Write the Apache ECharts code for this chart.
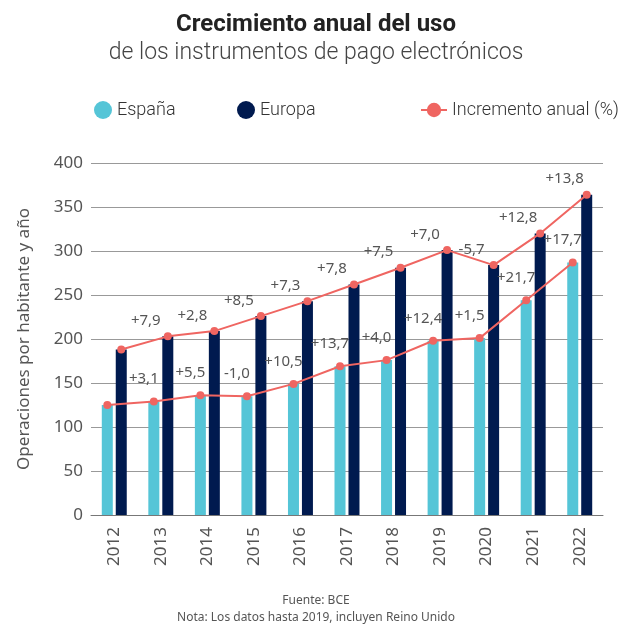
<!DOCTYPE html>
<html>
<head>
<meta charset="utf-8">
<script src="https://cdn.jsdelivr.net/npm/echarts@6/dist/echarts.min.js"></script>
<style>
  html, body { margin: 0; padding: 0; background: #fff; }
  #chart { width: 632px; height: 626px; }
</style>
</head>
<body>
<div id="chart"></div>
<script>
var years = ['2012', '2013', '2014', '2015', '2016', '2017', '2018', '2019', '2020', '2021', '2022'];
var espana = [125, 129, 136, 135, 149, 169, 176, 198, 201, 244, 287];
var europa = [188, 203, 209, 226, 243, 262, 281, 301, 284, 320, 364];
var espanaGrowth = [null, 3.1, 5.5, -1.0, 10.5, 13.7, 4.0, 12.4, 1.5, 21.7, 17.7];
var europaGrowth = [null, 7.9, 2.8, 8.5, 7.3, 7.8, 7.5, 7.0, -5.7, 12.8, 13.8];
var yTicks = [0, 50, 100, 150, 200, 250, 300, 350, 400];

var cEsp = '#55c5d7';
var cEur = '#001a4f';
var cLine = '#ef6561';
var textFont = '"Noto Sans", "Open Sans", sans-serif';
var headFont = 'Roboto';

function fmt(v) {
  if (v == null) return '';
  return (v > 0 ? '+' : '') + v.toFixed(1).replace('.', ',');
}

// line points sit over each bar, so shift them off the category centre
function linePoints(vals, growth, shift) {
  return vals.map(function (v, i) {
    return { value: [i + shift, v], growth: growth[i] };
  });
}

function lineSeries(vals, growth, shift, lblOffset) {
  return {
    name: 'Incremento anual (%)',
    type: 'line',
    xAxisIndex: 1,
    data: linePoints(vals, growth, shift),
    symbol: 'circle',
    symbolSize: 8,
    lineStyle: { color: cLine, width: 2 },
    itemStyle: { color: cLine },
    z: 5,
    label: {
      show: true,
      position: 'top',
      offset: lblOffset,
      fontFamily: textFont,
      fontSize: 15,
      color: '#555',
      formatter: function (p) { return fmt(p.data.growth); }
    }
  };
}

var myChart = echarts.init(document.getElementById('chart'));
var option = {
  animation: false,
  title: {
    text: 'Crecimiento anual del uso',
    subtext: 'de los instrumentos de pago electrónicos',
    left: 'center',
    top: 8,
    itemGap: 5,
    textStyle: { fontFamily: headFont, fontSize: 24, fontWeight: 'bold', color: '#222' },
    subtextStyle: { fontFamily: headFont, fontSize: 23, fontWeight: 300, color: '#444' }
  },
  graphic: [
    {
      type: 'text', left: 'center', top: 595,
      style: { text: 'Fuente: BCE', fontFamily: textFont, fontSize: 12, fill: '#555' }
    },
    {
      type: 'text', left: 'center', top: 612,
      style: { text: 'Nota: Los datos hasta 2019, incluyen Reino Unido', fontFamily: textFont, fontSize: 12, fill: '#555' }
    }
  ],
  legend: [
    {
      data: [{ name: 'España', icon: 'circle' }],
      left: 89, top: 96,
      itemWidth: 18, itemHeight: 18,
      textStyle: { fontFamily: headFont, fontSize: 18, fontWeight: 300, color: '#333' }
    },
    {
      data: [{ name: 'Europa', icon: 'circle' }],
      left: 232, top: 96,
      itemWidth: 18, itemHeight: 18,
      textStyle: { fontFamily: headFont, fontSize: 18, fontWeight: 300, color: '#333' }
    },
    {
      data: ['Incremento anual (%)'],
      left: 415, top: 96,
      itemWidth: 26, itemHeight: 18,
      textStyle: { fontFamily: headFont, fontSize: 18, fontWeight: 300, color: '#333' }
    }
  ],
  grid: { left: 91, right: 29, top: 163, bottom: 111 },
  xAxis: [
    {
      type: 'category',
      data: years,
      axisLine: { lineStyle: { color: '#777', width: 1 } },
      axisTick: { show: false },
      axisLabel: { rotate: 90, margin: 12, fontFamily: textFont, fontSize: 17, color: '#555' }
    },
    {
      type: 'value',
      min: -0.5,
      max: years.length - 0.5,
      show: false
    }
  ],
  yAxis: {
    type: 'value',
    min: yTicks[0],
    max: yTicks[yTicks.length - 1],
    interval: 50,
    name: 'Operaciones por habitante y año',
    nameLocation: 'middle',
    nameRotate: 90,
    nameGap: 58,
    nameTextStyle: { fontFamily: textFont, fontSize: 17, color: '#555' },
    axisLine: { show: false },
    axisTick: { show: false },
    axisLabel: { margin: 8, fontFamily: textFont, fontSize: 17, color: '#555' },
    splitLine: { lineStyle: { color: '#999', width: 1 } }
  },
  series: [
    {
      name: 'España',
      type: 'bar',
      data: espana,
      barWidth: 11,
      barGap: '27%',
      itemStyle: { color: cEsp }
    },
    {
      name: 'Europa',
      type: 'bar',
      data: europa,
      barWidth: 11,
      itemStyle: { color: cEur }
    },
    lineSeries(espana, espanaGrowth, -0.15, [-10, -6]),
    lineSeries(europa, europaGrowth, 0.15, [-22, 1])
  ]
};
myChart.setOption(option);
</script>
</body>
</html>
